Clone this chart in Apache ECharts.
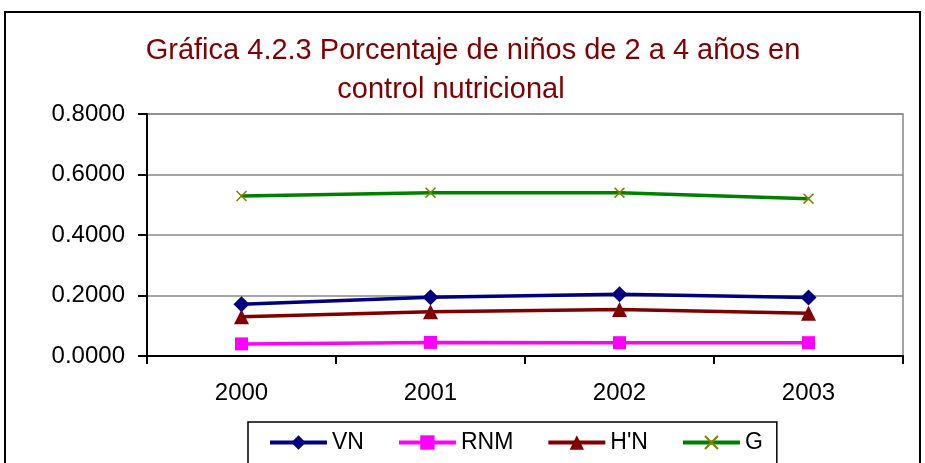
<!DOCTYPE html>
<html>
<head>
<meta charset="utf-8">
<script src="https://cdn.jsdelivr.net/npm/echarts@6/dist/echarts.min.js"></script>
<style>
  html, body { margin: 0; padding: 0; background: #fff; }
  #chart { width: 925px; height: 463px; }
</style>
</head>
<body>
<div id="chart"></div>
<script>
// datos
var years = ['2000', '2001', '2002', '2003'];
var vn  = [0.171, 0.194, 0.204, 0.193];
var rnm = [0.040, 0.045, 0.044, 0.044];
var hn  = [0.130, 0.146, 0.154, 0.141];
var g   = [0.529, 0.540, 0.540, 0.520];

var font = 'Liberation Sans, Arial, sans-serif';
var crossPath = 'path://M0,1 L1,0 L5,4 L9,0 L10,1 L6,5 L10,9 L9,10 L5,6 L1,10 L0,9 L4,5 Z';

function serie(name, data, color, symbol, size, markColor) {
    return {
        name: name,
        type: 'line',
        data: data,
        symbol: symbol,
        symbolSize: size,
        lineStyle: { color: color, width: 3.5 },
        itemStyle: { color: markColor || color },
        emphasis: { disabled: true }
    };
}

var chart = echarts.init(document.getElementById('chart'));
chart.setOption({
    animation: false,
    title: [
        {
            text: 'Gráfica 4.2.3 Porcentaje de niños de 2 a 4 años en',
            left: 468, top: 31, textAlign: 'center',
            textStyle: { color: '#800000', fontFamily: font, fontSize: 29, fontWeight: 'normal' }
        },
        {
            text: 'control nutricional',
            left: 446, top: 70, textAlign: 'center',
            textStyle: { color: '#800000', fontFamily: font, fontSize: 29, fontWeight: 'normal' }
        }
    ],
    graphic: [{
        type: 'rect',
        shape: { x: 5, y: 12, width: 915, height: 520 },
        style: { fill: 'none', stroke: '#000', lineWidth: 2 },
        silent: true
    }],
    legend: {
        data: ['VN', 'RNM', "H'N", 'G'],
        left: 248, top: 422,
        padding: [9, 14, 12, 20],
        itemWidth: 57, itemHeight: 18, itemGap: 33,
        lineStyle: { width: 4 },
        borderColor: '#000', borderWidth: 1.5,
        textStyle: { fontFamily: font, fontSize: 23, color: '#000' }
    },
    grid: {
        left: 147, right: 22, top: 114, bottom: 107,
        show: true, borderColor: '#888', borderWidth: 1.5
    },
    xAxis: {
        type: 'category',
        data: years,
        boundaryGap: true,
        axisLine: { lineStyle: { color: '#000', width: 2 } },
        axisTick: { show: true, length: 8, lineStyle: { color: '#000', width: 2 } },
        axisLabel: { color: '#000', fontFamily: font, fontSize: 24, margin: 25 }
    },
    yAxis: {
        type: 'value',
        min: 0, max: 0.8, interval: 0.2,
        axisLine: { show: true, lineStyle: { color: '#000', width: 2 } },
        axisTick: { show: true, length: 9, lineStyle: { color: '#000', width: 2 } },
        splitLine: { lineStyle: { color: '#888', width: 1.5 } },
        axisLabel: {
            color: '#000', fontFamily: font, fontSize: 24, margin: 22,
            formatter: function (v) { return v.toFixed(4); }
        }
    },
    series: [
        serie('VN', vn, '#000080', 'diamond', 16),
        serie('RNM', rnm, '#ff00ff', 'rect', 13),
        serie("H'N", hn, '#800000', 'triangle', 15),
        serie('G', g, '#008000', crossPath, 11, '#808000')
    ]
});
</script>
</body>
</html>
